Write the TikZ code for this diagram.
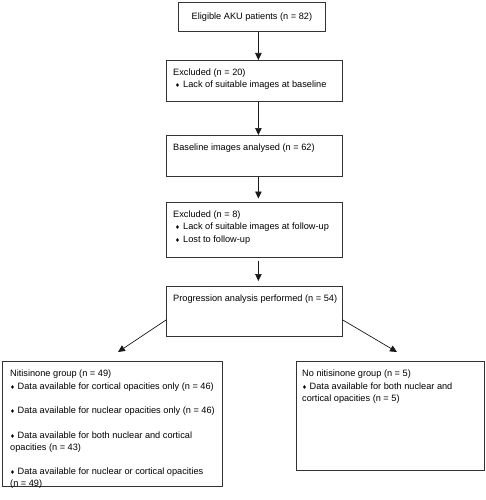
\documentclass[tikz,border=0pt]{standalone}
\usepackage{fontspec}
\setmainfont{Liberation Sans}
\newfontfamily\djv{DejaVu Sans}
\usetikzlibrary{arrows.meta}
\newcommand\bul{{\djv\fontsize{5.5}{5.5}\selectfont ♦}}
\newcommand\tbul{\makebox[10pt][l]{\hspace{2pt}\bul}}
\begin{document}
\begin{tikzpicture}[x=1pt,y=-1pt,
  box/.style={draw=black!80, line width=0.8pt, rectangle, inner sep=0pt, anchor=north west},
  txt/.style={anchor=north west, inner sep=0pt, align=left},
  arr/.style={draw=black!90, line width=0.7pt, -{Triangle[length=7pt,width=6.5pt]}},
  every node/.style={font=\fontsize{9.2}{12.5}\selectfont}]
\useasboundingbox (0,0) rectangle (485,500);
% boxes
\node[box, minimum width=147pt, minimum height=29pt] (b1) at (178,2) {Eligible AKU patients (n = 82)};
\node[box, minimum width=176pt, minimum height=41pt] (b2) at (166,60) {};
\node[box, minimum width=176pt, minimum height=41pt] (b3) at (166,135) {};
\node[box, minimum width=176pt, minimum height=55pt] (b4) at (166,202) {};
\node[box, minimum width=176pt, minimum height=50pt] (b5) at (166,286) {};
\node[box, minimum width=220pt, minimum height=125pt] (b6) at (2,361) {};
\node[box, minimum width=188pt, minimum height=109pt] (b7) at (296,361) {};
% texts
\node[txt] (t2) at ([xshift=7pt,yshift=-8.5pt]b2.north west) {Excluded (n = 20)\\ \tbul Lack of suitable images at baseline};
\node[txt] (t3) at ([xshift=7pt,yshift=-8.5pt]b3.north west) {Baseline images analysed (n = 62)};
\node[txt] (t4) at ([xshift=7pt,yshift=-8.5pt]b4.north west) {Excluded (n = 8)\\ \tbul Lack of suitable images at follow-up\\ \tbul Lost to follow-up};
\node[txt] (t5) at ([xshift=7pt,yshift=-8.5pt]b5.north west) {Progression analysis performed (n = 54)};
\node[txt] (t6) at ([xshift=8pt,yshift=-9pt]b6.north west) {Nitisinone group (n = 49)\\
\bul\ Data available for cortical opacities only (n = 46)\\[12pt]
\bul\ Data available for nuclear opacities only (n = 46)\\[12pt]
\bul\ Data available for both nuclear and cortical\\ opacities (n = 43)\\[11pt]
\bul\ Data available for nuclear or cortical opacities\\ (n = 49)};
\node[txt] (t7) at ([xshift=6pt,yshift=-9pt]b7.north west) {No nitisinone group (n = 5)\\
\bul\ Data available for both nuclear and\\ cortical opacities (n = 5)};
% connectors
\coordinate (ax) at ([xshift=4pt]b2.north);
\coordinate (tl) at (118,352);
\coordinate (tr) at (397,352);
\draw[arr] (ax |- b1.south) -- (ax |- b2.north);
\draw[arr] (ax |- b2.south) -- (ax |- b3.north);
\draw[arr, shorten >=3.5pt] (ax |- b3.south) -- (ax |- b4.north);
\draw[arr, shorten <=3pt, shorten >=5pt] (ax |- b4.south) -- (ax |- b5.north);
\draw[arr] ([yshift=-34pt]b5.north west) -- (tl);
\draw[arr] ([yshift=-34pt]b5.north east) -- (tr);
\end{tikzpicture}
\end{document}
